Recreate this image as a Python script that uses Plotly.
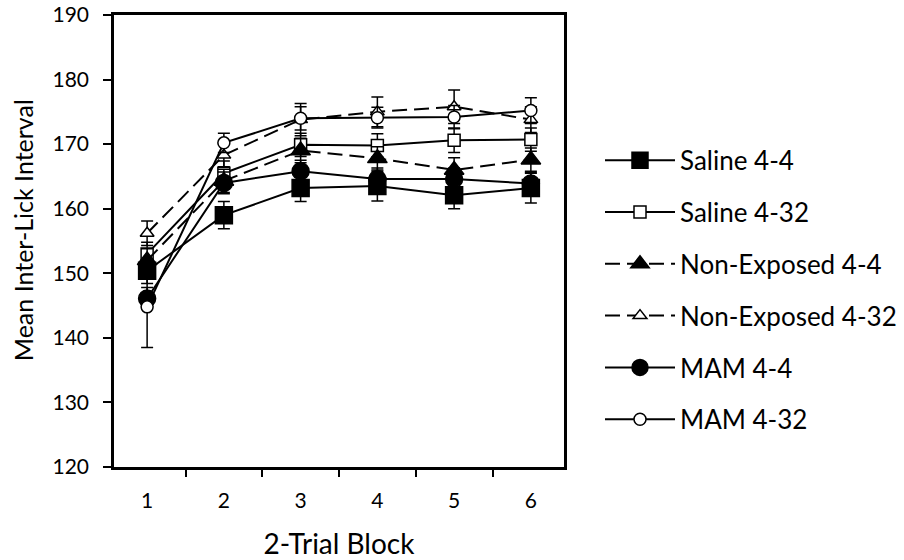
import plotly.graph_objects as go

blocks = ["1", "2", "3", "4", "5", "6"]

saline_44 = [150.4, 159.0, 163.2, 163.5, 162.1, 163.2]
saline_44_err = [2.0, 2.1, 2.1, 2.3, 2.1, 2.3]
saline_432 = [153.0, 165.5, 169.9, 169.8, 170.6, 170.7]
saline_432_err = [1.8, 1.9, 1.8, 1.8, 1.9, 1.8]
nonexp_44 = [152.0, 164.3, 169.0, 167.8, 166.0, 167.6]
nonexp_44_err = [1.8, 1.8, 1.9, 1.8, 1.9, 1.8]
nonexp_432 = [156.2, 168.3, 173.8, 175.0, 175.8, 173.8]
nonexp_432_err = [1.9, 1.8, 2.5, 2.3, 2.6, 2.0]
mam_44 = [146.1, 164.0, 165.8, 164.6, 164.6, 163.9]
mam_44_err = [1.7, 1.7, 1.7, 1.7, 1.7, 1.7]
mam_432 = [144.8, 170.2, 174.0, 174.1, 174.2, 175.2]
mam_432_err = [6.3, 1.5, 1.8, 1.6, 1.8, 2.0]

series = [
    ("Saline 4-4", saline_44, saline_44_err, "square", "black", "solid"),
    ("Saline 4-32", saline_432, saline_432_err, "square", "white", "solid"),
    ("Non-Exposed 4-4", nonexp_44, nonexp_44_err, "triangle-up", "black", "15px,7px"),
    ("Non-Exposed 4-32", nonexp_432, nonexp_432_err, "triangle-up", "white", "15px,7px"),
    ("MAM 4-4", mam_44, mam_44_err, "circle", "black", "solid"),
    ("MAM 4-32", mam_432, mam_432_err, "circle", "white", "solid"),
]

fig = go.Figure()
for name, vals, errs, sym, fill, dash in series:
    filled = fill == "black"
    fig.add_trace(go.Scatter(
        x=blocks, y=vals, name=name, legendgroup=name,
        mode="lines+markers",
        line=dict(color="black", width=2, dash=dash),
        marker=dict(symbol=sym, size=17 if filled else 12, color=fill,
                    line=dict(color="black", width=1.5)),
        error_y=dict(type="data", array=errs, visible=True,
                     color="black", thickness=1.5, width=6),
    ))

font = "Lato, 'Open Sans', sans-serif"
fig.update_layout(
    width=904, height=560,
    margin=dict(l=114, r=340, t=15, b=93, autoexpand=False),
    plot_bgcolor="white", paper_bgcolor="white",
    font=dict(family=font, color="black", size=21),
    showlegend=True,
    legend=dict(x=1.08, y=0.392, xanchor="left", yanchor="middle",
                font=dict(size=26, family=font), tracegroupgap=15,
                itemwidth=70, bgcolor="rgba(0,0,0,0)"),
    xaxis=dict(
        type="category", tickson="boundaries", ticks="outside", ticklen=7,
        tickwidth=2, tickcolor="black", showline=True, linecolor="black",
        linewidth=2.5, mirror=True, showgrid=False, zeroline=False,
        tickfont=dict(size=21), ticklabelstandoff=13,
        title=dict(text="2-Trial Block", font=dict(size=28), standoff=26),
    ),
    yaxis=dict(
        range=[120, 190], dtick=10, ticks="outside", ticklen=8, tickwidth=2,
        tickcolor="black", showline=True, linecolor="black", linewidth=2.5,
        mirror=True, showgrid=False, zeroline=False,
        tickfont=dict(size=21), ticklabelstandoff=10,
    ),
    annotations=[dict(
        text="Mean Inter-Lick Interval", textangle=-90,
        xref="paper", yref="paper", x=-114 / 450 + 23 / 450, y=0.524,
        xanchor="center", yanchor="middle", showarrow=False,
        font=dict(size=25, family=font, color="black"),
    )],
)

fig.write_html("out.html")
